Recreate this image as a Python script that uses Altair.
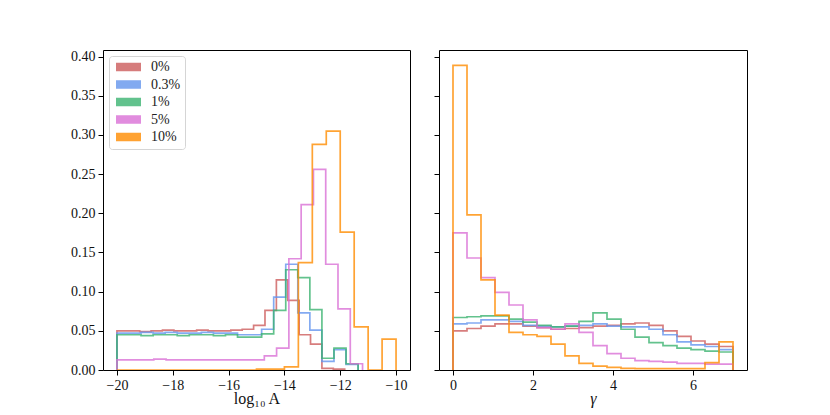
import altair as alt
import pandas as pd

series = ["0%", "0.3%", "1%", "5%", "10%"]
colors = ["indianred", "cornflowerblue", "mediumseagreen", "orchid", "darkorange"]

# ---- left panel: log10 A, 20 bins per series from -20 to each series' max
logA_lo = [-20.0, -20.0, -20.0, -20.0, -20.0]
logA_hi = [-11.84, -11.36, -11.36, -11.20, -10.00]
logA_red = [0.050, 0.050, 0.049, 0.050, 0.051, 0.050, 0.050, 0.051, 0.050, 0.050,
            0.051, 0.052, 0.057, 0.076, 0.115, 0.089, 0.045, 0.033, 0.002, 0.001]
logA_blue = [0.047, 0.047, 0.048, 0.047, 0.048, 0.047, 0.047, 0.048, 0.047, 0.047,
             0.045, 0.045, 0.052, 0.093, 0.135, 0.073, 0.051, 0.011, 0.026, 0.007]
logA_green = [0.045, 0.045, 0.044, 0.045, 0.045, 0.044, 0.045, 0.045, 0.044, 0.045,
              0.042, 0.042, 0.046, 0.076, 0.128, 0.118, 0.077, 0.015, 0.028, 0.008]
logA_pink = [0.013, 0.013, 0.013, 0.014, 0.013, 0.013, 0.013, 0.013, 0.013, 0.013,
             0.013, 0.013, 0.018, 0.028, 0.142, 0.211, 0.256, 0.135, 0.078, 0.008]
logA_orange = [0.000, 0.000, 0.000, 0.000, 0.000, 0.000, 0.000, 0.000, 0.000, 0.000,
               0.001, 0.001, 0.004, 0.137, 0.288, 0.305, 0.176, 0.055, 0.000, 0.0395]

# ---- right panel: gamma, 20 bins on [0, 7]
gamma_lo = [0.0, 0.0, 0.0, 0.0, 0.0]
gamma_hi = [7.0, 7.0, 7.0, 7.0, 7.0]
gamma_red = [0.050, 0.053, 0.056, 0.059, 0.059, 0.056, 0.054, 0.052, 0.053, 0.054,
             0.056, 0.057, 0.059, 0.060, 0.057, 0.050, 0.043, 0.037, 0.033, 0.030]
gamma_blue = [0.059, 0.060, 0.064, 0.064, 0.062, 0.057, 0.056, 0.055, 0.056, 0.057,
              0.059, 0.056, 0.055, 0.055, 0.052, 0.045, 0.036, 0.032, 0.030, 0.026]
gamma_green = [0.067, 0.068, 0.069, 0.069, 0.065, 0.061, 0.057, 0.055, 0.056, 0.062,
               0.073, 0.065, 0.052, 0.042, 0.035, 0.031, 0.028, 0.026, 0.024, 0.023]
gamma_pink = [0.175, 0.143, 0.118, 0.099, 0.083, 0.064, 0.054, 0.052, 0.059, 0.048,
              0.031, 0.021, 0.015, 0.012, 0.011, 0.010, 0.0085, 0.0085, 0.0076, 0.0076]
gamma_orange = [0.389, 0.198, 0.115, 0.070, 0.048, 0.045, 0.043, 0.033, 0.018, 0.0085,
                0.005, 0.0034, 0.002, 0.0017, 0.0017, 0.0017, 0.0017, 0.0017, 0.0093, 0.036]

logA_vals = [logA_red, logA_blue, logA_green, logA_pink, logA_orange]
gamma_vals = [gamma_red, gamma_blue, gamma_green, gamma_pink, gamma_orange]


def step_table(los, his, vals):
    rows = []
    for s, lo, hi, v in zip(series, los, his, vals):
        n = len(v)
        edges = [lo + (hi - lo) * k / n for k in range(n + 1)]
        i = 0
        rows.append({"series": s, "x": edges[0], "y": 0.0, "i": i})
        for k in range(n):
            i += 1
            rows.append({"series": s, "x": edges[k], "y": v[k], "i": i})
            i += 1
            rows.append({"series": s, "x": edges[k + 1], "y": v[k], "i": i})
        i += 1
        rows.append({"series": s, "x": edges[n], "y": 0.0, "i": i})
    return pd.DataFrame(rows)


df_left = step_table(logA_lo, logA_hi, logA_vals)
df_right = step_table(gamma_lo, gamma_hi, gamma_vals)

FONT = "Liberation Serif, Times New Roman, serif"
yticks = [0.0, 0.05, 0.10, 0.15, 0.20, 0.25, 0.30, 0.35, 0.40]
ydom = [0, 0.4085]

# legend patch: a 25 x 8.3 px block drawn as four thick horizontal strokes
PATCH = "M-0.8,-0.62H4.2M-0.8,-0.21H4.2M-0.8,0.21H4.2M-0.8,0.62H4.2"


def panel(df, xdom, xticks, xtitle, width, left):
    if left:
        legend = alt.Legend(
            orient="top-left", title=None, offset=6, padding=4,
            fillColor="white", strokeColor="#d5d5d5", cornerRadius=3,
            symbolType=PATCH, symbolSize=100, symbolStrokeWidth=2.1,
            symbolOpacity=0.8, labelFont=FONT, labelFontSize=14,
            labelColor="#222", rowPadding=1.5, labelOffset=24,
            labelLimit=60,
        )
    else:
        legend = None
    return alt.Chart(df).mark_line(
        strokeWidth=1.7, opacity=0.8, strokeJoin="miter", clip=True
    ).encode(
        x=alt.X("x:Q", scale=alt.Scale(domain=xdom, nice=False, zero=False),
                axis=alt.Axis(values=xticks, format="d", title=xtitle,
                              titleFontStyle="normal" if left else "italic")),
        y=alt.Y("y:Q", scale=alt.Scale(domain=ydom, nice=False),
                axis=alt.Axis(values=yticks, format=".2f", labels=left, title=None)),
        color=alt.Color("series:N", scale=alt.Scale(domain=series, range=colors),
                        legend=legend, sort=series),
        order="i:Q",
    ).properties(width=width, height=320)


left = panel(df_left, [-20.5, -9.5], [-20, -18, -16, -14, -12, -10], "log₁₀ A", 307, True)
right = panel(df_right, [-0.35, 7.35], [0, 2, 4, 6], "γ", 308, False)

chart = alt.hconcat(left, right, spacing=22).resolve_legend(color="independent").properties(
    padding={"left": 62, "top": 41, "right": 5, "bottom": 5}
).configure_view(
    stroke="black", strokeWidth=1
).configure_axis(
    domain=False, ticks=True, tickSize=5, tickWidth=1, tickColor="black",
    labelFont=FONT, labelFontSize=14, labelColor="#111", labelPadding=3,
    titleFont=FONT, titleFontSize=16, titleFontWeight="normal", titleColor="#111",
    titlePadding=-2, grid=False,
)

chart.save("out.html", embed_options={"renderer": "svg", "actions": False})
